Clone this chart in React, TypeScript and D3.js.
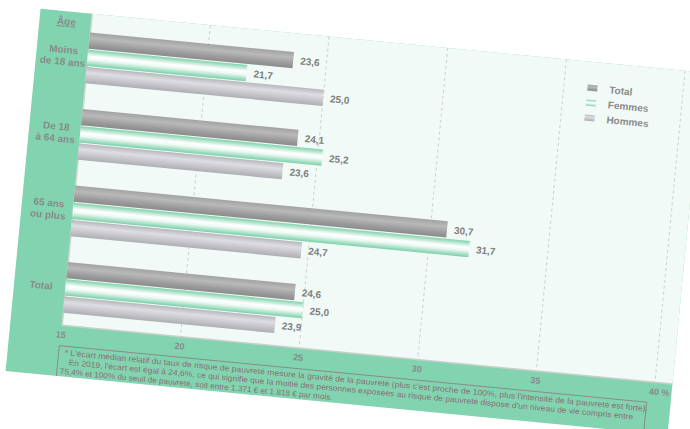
import React from "react";
import * as d3 from "d3";

// Écart médian relatif du taux de risque de pauvreté, par âge et sexe (2019)
const categories = ["Moins de 18 ans", "De 18 à 64 ans", "65 ans ou plus", "Total"];
const categoryLines = [["Moins", "de 18 ans"], ["De 18", "à 64 ans"], ["65 ans", "ou plus"], ["Total"]];
const seriesNames = ["Total", "Femmes", "Hommes"];
const totalValues = [23.6, 24.1, 30.7, 24.6];
const femmesValues = [21.7, 25.2, 31.7, 25.0];
const hommesValues = [25.0, 23.6, 24.7, 23.9];
const xTicks = [15, 20, 25, 30, 35, 40];
const footnoteLines = [
  "* L'écart médian relatif du taux de risque de pauvreté mesure la gravité de la pauvreté (plus c'est proche de 100%, plus l'intensité de la pauvreté est forte).",
  "En 2019, l'écart est égal à 24,6%, ce qui signifie que la moitié des personnes exposées au risque de pauvreté dispose d'un niveau de vie compris entre",
  "75,4% et 100% du seuil de pauvreté, soit entre 1.371 € et 1.818 € par mois.",
];

const seriesValues = [totalValues, femmesValues, hommesValues];

const FONT = "'Liberation Sans', Arial, sans-serif";
const GREEN = "#82d4b1";
const MINT = "#f1faf6";
const GREY_TEXT = "#8a8a8a";
const NOTE = "#8c6e72";

const frameW = 665;
const frameH = 364;
const plotLeft = 52;
const plotBottom = 313;

export default function App() {
  const x = d3.scaleLinear().domain([15, 40]).range([51.5, 647.5]);
  const y = d3
    .scaleBand<string>()
    .domain(categories)
    .range([5.7, 313.5])
    .paddingInner(0.337)
    .paddingOuter(0.17);
  const ys = d3
    .scaleBand<string>()
    .domain(seriesNames)
    .range([0, y.bandwidth()])
    .paddingInner(0.06);

  const fills = ["url(#gTotal)", "url(#gFemmes)", "url(#gHommes)"];
  const footX = [57, 62, 54];
  const footW = [586, 567, 274];
  const footY = [342.5, 352, 361.5];
  const boxL = 51;
  const boxR = 641;
  const boxT = 333.5;

  return (
    <svg
      width={690}
      height={429}
      style={{ position: "absolute", left: 0, top: 0, background: "#fff" }}
      fontFamily={FONT}
    >
      <defs>
        <linearGradient id="gTotal" x1="0" y1="0" x2="0" y2="1">
          <stop offset="0" stopColor="#a2a2a2" />
          <stop offset="0.35" stopColor="#b9b9b9" />
          <stop offset="0.75" stopColor="#9a9a9a" />
          <stop offset="1" stopColor="#8b8b8b" />
        </linearGradient>
        <linearGradient id="gFemmes" x1="0" y1="0" x2="0" y2="1">
          <stop offset="0" stopColor="#7ed2ac" />
          <stop offset="0.4" stopColor="#ffffff" />
          <stop offset="0.6" stopColor="#eef9f4" />
          <stop offset="1" stopColor="#79d0a9" />
        </linearGradient>
        <linearGradient id="gHommes" x1="0" y1="0" x2="0" y2="1">
          <stop offset="0" stopColor="#b6b6bc" />
          <stop offset="0.35" stopColor="#dedee2" />
          <stop offset="0.7" stopColor="#c4c4c9" />
          <stop offset="1" stopColor="#adadb3" />
        </linearGradient>
      </defs>

      <g transform="translate(40.5,8.8) rotate(5.5)">
        {/* frame and plot background */}
        <rect x={0} y={0} width={frameW} height={frameH} fill={GREEN} />
        <rect x={plotLeft} y={0} width={frameW - plotLeft} height={plotBottom} fill={MINT} />

        {/* vertical dashed grid */}
        {xTicks.slice(1).map((t) => (
          <line
            key={t}
            x1={x(t)}
            x2={x(t)}
            y1={0}
            y2={plotBottom + 3}
            stroke="#c4c4c4"
            strokeWidth={0.8}
            strokeDasharray="3,3"
          />
        ))}

        {/* axis edges */}
        <line x1={plotLeft} x2={plotLeft} y1={0} y2={plotBottom} stroke="#cfd6d2" strokeWidth={1.5} />
        <line x1={plotLeft} x2={frameW} y1={plotBottom} y2={plotBottom} stroke="#c8cfcb" strokeWidth={1.5} />

        {/* bars and value labels */}
        {categories.map((c, ci) => (
          <g key={c} transform={`translate(0,${y(c)})`}>
            {seriesNames.map((s, si) => {
              const v = seriesValues[si][ci];
              const by = ys(s) as number;
              return (
                <g key={s}>
                  <rect
                    x={x(15)}
                    y={by}
                    width={x(v) - x(15)}
                    height={ys.bandwidth()}
                    fill={fills[si]}
                  />
                  <text
                    x={x(v) + 7}
                    y={by + ys.bandwidth() / 2 + 3.6}
                    fontSize={10}
                    fontWeight="bold"
                    fill="#7f7f7f"
                  >
                    {v.toFixed(1).replace(".", ",")}
                  </text>
                </g>
              );
            })}
          </g>
        ))}

        {/* category labels */}
        <text x={27} y={13.5} fontSize={10} fontWeight="bold" fill={GREY_TEXT} textAnchor="middle" textDecoration="underline">
          Âge
        </text>
        {categories.map((c, ci) => {
          const lines = categoryLines[ci];
          const cy = (y(c) as number) + y.bandwidth() / 2;
          return (
            <text key={c} fontSize={10} fontWeight="bold" fill={GREY_TEXT} textAnchor="middle">
              {lines.map((l, li) => (
                <tspan key={li} x={27} y={cy + 3.5 + (li - (lines.length - 1) / 2) * 12}>
                  {l}
                </tspan>
              ))}
            </text>
          );
        })}

        {/* x tick labels */}
        {xTicks.map((t) => (
          <text
            key={t}
            x={x(t) - 5}
            y={325.5}
            fontSize={9}
            fontWeight="bold"
            fill={GREY_TEXT}
          >
            {t === 40 ? "40 %" : String(t)}
          </text>
        ))}

        {/* legend */}
        {seriesNames.map((s, si) => {
          const ly = 26 + si * 15;
          return (
            <g key={s}>
              <rect x={552} y={ly - 3} width={10} height={6} fill={fills[si]} />
              <text x={574} y={ly + 3.6} fontSize={10} fontWeight="bold" fill={GREY_TEXT}>
                {s}
              </text>
            </g>
          );
        })}

        {/* footnote box: open at the bottom, runs to the frame edge */}
        <path
          d={`M${boxL},${frameH} V${boxT} H${boxR} V${frameH}`}
          fill="none"
          stroke="#8a7c7e"
          strokeWidth={0.8}
        />
        {footnoteLines.map((l, i) => (
          <text
            key={i}
            x={footX[i]}
            y={footY[i]}
            fontSize={8}
            fill={NOTE}
            textLength={footW[i]}
            lengthAdjust="spacingAndGlyphs"
          >
            {l}
          </text>
        ))}
      </g>
    </svg>
  );
}
